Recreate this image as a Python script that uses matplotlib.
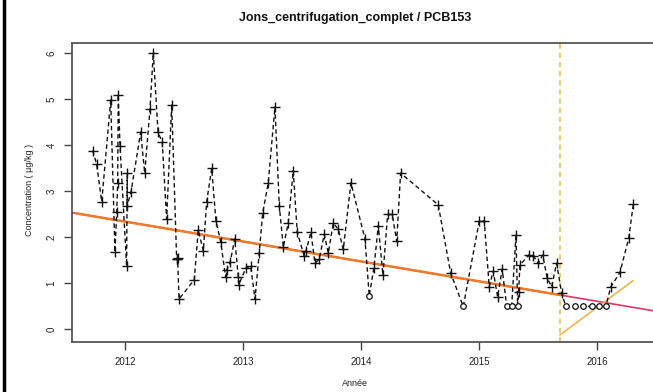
import matplotlib
matplotlib.use("Agg")
import matplotlib.pyplot as plt
import numpy as np
from matplotlib.lines import Line2D

plt.rcParams['font.family'] = ['Liberation Sans', 'DejaVu Sans']

# ---- data (decimal year, concentration, censored flag) ----
dates = [2011.726, 2011.760, 2011.803, 2011.879, 2011.915, 2011.930, 2011.938, 2011.943,
         2011.958, 2012.014, 2012.019, 2012.019, 2012.051, 2012.133, 2012.167, 2012.212,
         2012.240, 2012.280, 2012.316, 2012.353, 2012.396, 2012.438, 2012.441, 2012.446,
         2012.458, 2012.587, 2012.621, 2012.664, 2012.692, 2012.735, 2012.771, 2012.811,
         2012.853, 2012.862, 2012.892, 2012.930, 2012.960, 2012.964, 2013.025, 2013.065,
         2013.102, 2013.138, 2013.167, 2013.214, 2013.271, 2013.308, 2013.342, 2013.384,
         2013.426, 2013.460, 2013.519, 2013.534, 2013.576, 2013.610, 2013.646, 2013.689,
         2013.723, 2013.765, 2013.808, 2013.850, 2013.915, 2014.034, 2014.070, 2014.110,
         2014.147, 2014.186, 2014.226, 2014.265, 2014.303, 2014.336, 2014.655, 2014.760,
         2014.867, 2015.003, 2015.045, 2015.087, 2015.121, 2015.158, 2015.197, 2015.235,
         2015.277, 2015.314, 2015.328, 2015.336, 2015.347, 2015.426, 2015.460, 2015.503,
         2015.540, 2015.579, 2015.616, 2015.658, 2015.701, 2015.737, 2015.814, 2015.884,
         2015.960, 2016.019, 2016.076, 2016.116, 2016.195, 2016.269, 2016.308]
values = [3.89, 3.59, 2.78, 4.99, 1.68, 2.56, 3.18, 5.10,
          3.99, 1.38, 3.40, 2.69, 2.99, 4.29, 3.40, 4.79,
          6.02, 4.29, 4.07, 2.40, 4.88, 1.53, 1.53, 1.55,
          0.66, 1.08, 2.16, 1.71, 2.77, 3.50, 2.36, 1.91,
          1.14, 1.29, 1.47, 1.97, 1.15, 0.97, 1.34, 1.38,
          0.66, 1.67, 2.53, 3.18, 4.84, 2.68, 1.79, 2.32,
          3.45, 2.11, 1.60, 1.71, 2.11, 1.44, 1.53, 2.07,
          1.66, 2.31, 2.18, 1.74, 3.19, 1.97, 0.73, 1.34,
          2.26, 1.18, 2.50, 2.50, 1.92, 3.40, 2.71, 1.23,
          0.50, 2.36, 2.36, 0.93, 1.27, 0.71, 1.31, 0.50,
          0.50, 2.05, 0.50, 0.81, 1.40, 1.63, 1.60, 1.44,
          1.62, 1.11, 0.93, 1.44, 0.79, 0.50, 0.50, 0.50,
          0.50, 0.50, 0.50, 0.92, 1.24, 1.98, 2.72]
censored = [0] * 62 + [1] + [0] * 9 + [1] + [0] * 6 + [1, 1, 0, 1] + [0] * 10 + [1] * 6 + [0] * 4

# trend lines
trend_slope = -0.433
trend_ref_x = 2015.686
trend_ref_y = 0.75
break_date = 2015.686
recent_x = [2015.686, 2016.305]
recent_y = [-0.12, 1.06]

title = "Jons_centrifugation_complet / PCB153"
xlabel = "Année"
ylabel = "Concentration ( µg/kg )"
xticks = [2012, 2013, 2014, 2015, 2016]
yticks = [0, 1, 2, 3, 4, 5, 6]

# ---- figure ----
W, H = 653, 392
fig = plt.figure(figsize=(W / 100, H / 100), dpi=100)
ax_l, ax_r, ax_t, ax_b = 72, 655, 43, 342
ax = fig.add_axes([ax_l / W, (H - ax_b) / H, (ax_r - ax_l) / W, (ax_b - ax_t) / H])
xlim = (2011.551, 2016.492)
ylim = (-0.272, 6.228)
ax.set_xlim(*xlim)
ax.set_ylim(*ylim)

d = np.array(dates)
v = np.array(values)
c = np.array(censored, dtype=bool)

# trend lines
xx = np.array(xlim)
ax.plot(xx, trend_ref_y + trend_slope * (xx - trend_ref_x), color="#d83a64", lw=1.2, zorder=2)
xo = np.array([xlim[0] + 0.04, break_date])
ax.plot(xo, trend_ref_y + trend_slope * (xo - trend_ref_x), color="#f07a28", lw=1.8, zorder=3)
ax.plot(recent_x, recent_y, color="#e9b650", lw=1.2, zorder=3)
ax.axvline(break_date, color="#e8c050", lw=1.2, ls=(0, (3, 2.5)), zorder=2)

# series
ax.plot(d, v, color="#111111", lw=1.0, ls=(0, (3.2, 2.2)), zorder=4)
ax.plot(d[~c], v[~c], ls="none", marker="+", ms=6.5, mew=1.0, color="#111111", zorder=5)
ax.plot(d[c], v[c], ls="none", marker="o", ms=4, mew=0.9, mfc="white", mec="#111111", zorder=5)

for s in ax.spines.values():
    s.set_color("#555555")
    s.set_linewidth(1.3)

ax.set_xticks(xticks)
ax.set_xticklabels([str(t) for t in xticks])
ax.set_yticks(yticks)
ax.set_yticklabels([str(t) for t in yticks], rotation=90, va="center")
ax.tick_params(axis="both", direction="out", length=6, width=1.0, color="#444444",
               labelsize=7, labelcolor="#222222", pad=5)

fig.text(355 / W, 1 - 18 / H, title, ha="center", va="center",
         fontsize=9, fontweight="bold", color="#111111")
fig.text(355 / W, 1 - 383 / H, xlabel, ha="center", va="center",
         fontsize=6.5, color="#222222")
fig.text(30 / W, 1 - 190 / H, ylabel, ha="center", va="center", rotation=90,
         fontsize=6.5, color="#222222")

# left black border
fig.add_artist(Line2D([3.5 / W, 3.5 / W], [0, 1], color="black", lw=2.5, transform=fig.transFigure))

fig.savefig("out.png", dpi=100)
